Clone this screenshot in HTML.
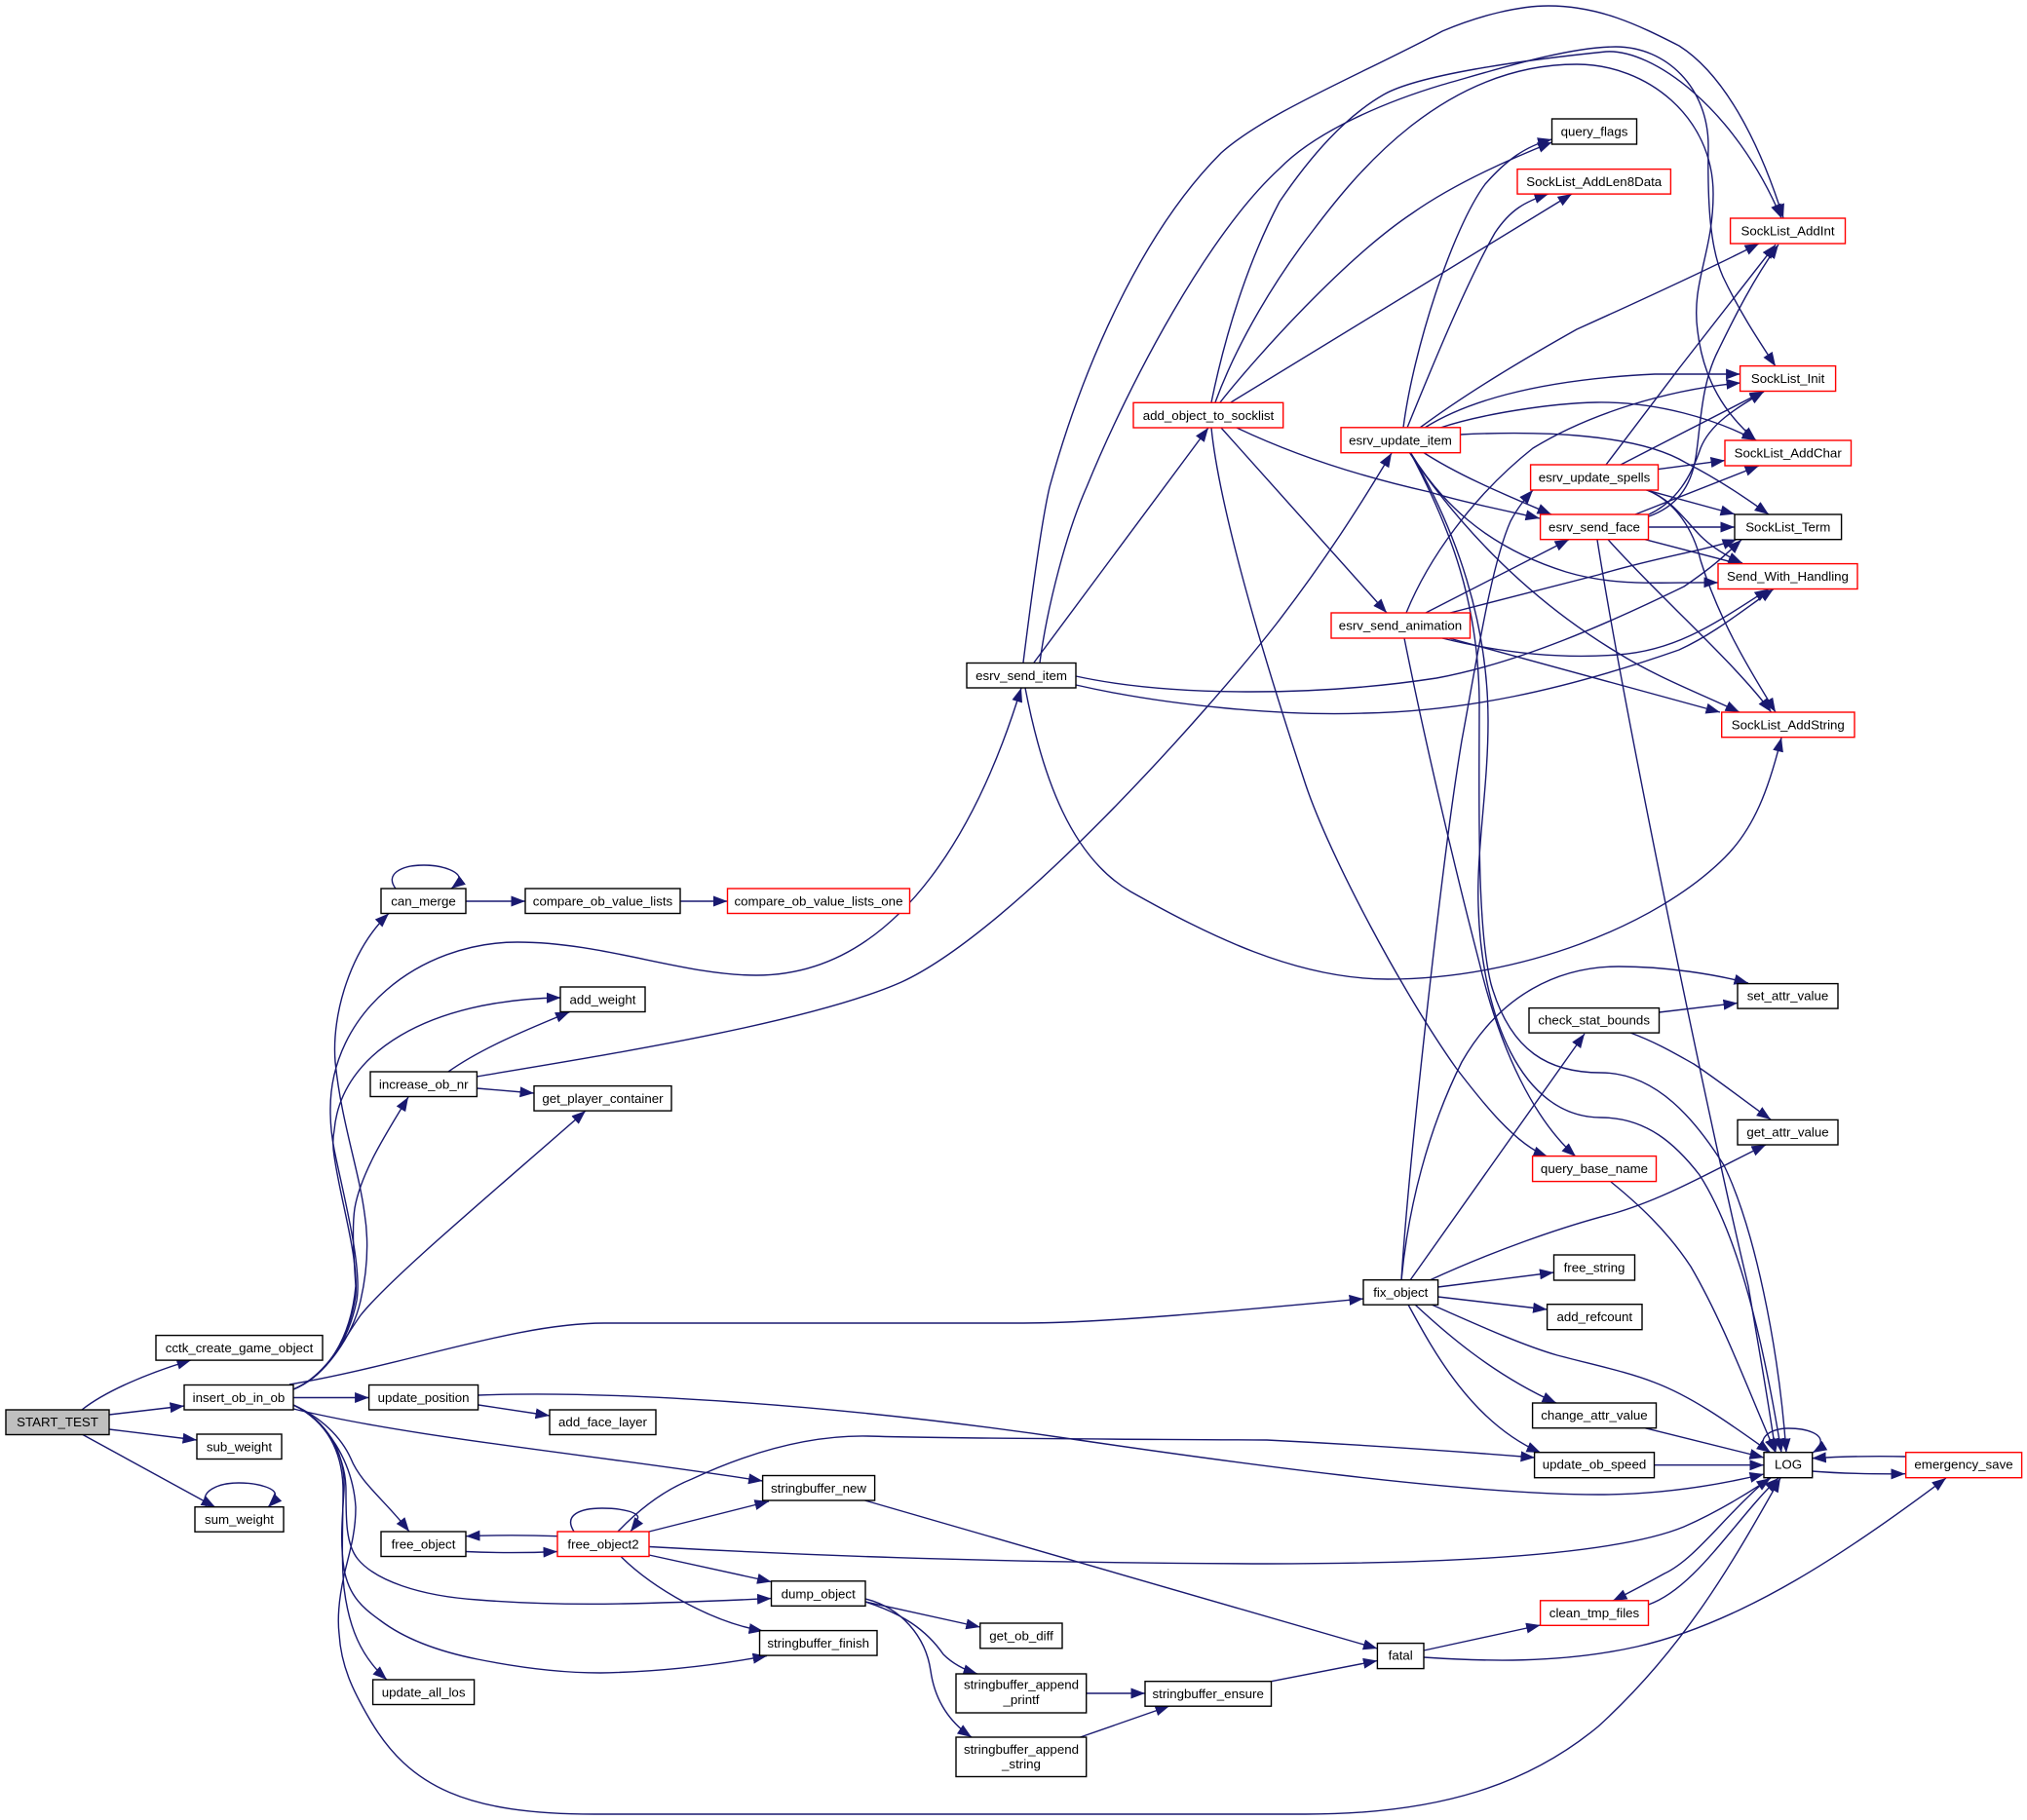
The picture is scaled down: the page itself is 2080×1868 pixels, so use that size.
<!DOCTYPE html>
<html><head><meta charset="utf-8"><style>
html,body{margin:0;padding:0;background:#fff}
svg{display:block}
text{font-family:"Liberation Sans",Arial,sans-serif;font-size:13.3px;text-anchor:middle;fill:#000}
.e path{fill:none;stroke:#191970;stroke-width:1.4;marker-end:url(#a)}
.n rect{fill:#fff;stroke:#000;stroke-width:1.4}
.n rect.r{stroke:#f00}
</style></head><body>
<svg width="2080" height="1868" viewBox="0 0 2080 1868" xmlns="http://www.w3.org/2000/svg">
<defs><marker id="a" markerUnits="userSpaceOnUse" markerWidth="16" markerHeight="12" refX="14.5" refY="5.5" orient="auto"><path d="M0,0L14.5,5.5L0,11Z" fill="#191970"/></marker></defs>
<g class="e">
<path d="M84,1447C108,1428 150,1410 196,1396"/>
<path d="M112,1452L189,1443"/>
<path d="M112,1467L202,1478"/>
<path d="M84,1472L221,1547"/>
<path d="M212,1547C203,1530 225,1522 245,1522C265,1522 285,1528 282,1535C281,1539 279,1543 275,1547"/>
<path d="M301,1434.5L378.6,1434.5"/>
<path d="M491,1442L564,1453"/>
<path d="M491,1432C620,1427 850,1440 1100,1477C1250,1499 1500,1534 1640,1534C1700,1534 1760,1525 1810,1513"/>
<path d="M634,1572C655,1550 680,1530 710,1518C770,1490 830,1473 890,1474C1000,1477 1150,1477 1300,1478C1400,1483 1500,1490 1575,1496"/>
<path d="M297,1421C420,1400 530,1358 620,1358L1050,1358C1130,1358 1270,1345 1399,1333"/>
<path d="M301,1446C420,1475 600,1492 782.6,1520"/>
<path d="M301,1442C330,1455 350,1475 360,1497C370,1522 395,1540 420,1572"/>
<path d="M301,1442C335,1458 355,1495 355,1530C355,1560 355,1585 367,1600C385,1622 430,1638 490,1642C540,1646 590,1647 640,1646C690,1645 740,1643 791.5,1640.6"/>
<path d="M301,1442C335,1458 355,1490 353,1530C351,1560 349,1585 353,1610C358,1640 375,1652 390,1663C415,1682 450,1695 490,1703C530,1711 575,1717 616,1717C680,1716 740,1708 787,1699.6"/>
<path d="M301,1442C335,1458 352,1490 352,1530C352,1560 350,1600 353,1630C358,1670 370,1700 397,1724"/>
<path d="M301,1442C335,1458 362,1500 365,1547C365,1575 358,1595 353,1617C348,1640 346,1660 348,1677C350,1710 362,1735 379,1764C420,1835 480,1862 610,1862L1340,1862C1480,1862 1570,1830 1640,1772C1730,1690 1780,1600 1827,1517"/>
<path d="M301,1426C335,1412 362,1370 370,1335C378,1300 378,1270 374,1245C368,1200 350,1150 344,1090C340,1040 360,975 399,937.5"/>
<path d="M301,1426C335,1412 358,1375 366,1335C372,1300 352,1225 343,1180C340,1165 339,1150 339,1140C338,1040 430,967 531,967C620,967 700,1001 776,1001C930,1001 1010,830 1048,706"/>
<path d="M301,1426C335,1412 358,1375 365,1330C368,1290 350,1235 343,1187C341,1175 342,1165 343,1160C350,1080 440,1026 575.5,1024"/>
<path d="M301,1426C335,1412 360,1375 365,1320C363,1290 361,1260 364,1240C370,1205 395,1165 419,1126"/>
<path d="M301,1426C335,1412 352,1375 370,1350C400,1312 510,1220 601,1140"/>
<path d="M406,912C395,898 410,888 435,888C455,888 473,895 471,903C470,906 467,909 463,912"/>
<path d="M478,925L539,925"/>
<path d="M698,925L746.5,925"/>
<path d="M460,1100C495,1075 545,1055 584.5,1038.6"/>
<path d="M489.4,1117L548,1122"/>
<path d="M489,1105C620,1083 830,1050 925,1008C1040,955 1240,730 1310,640C1360,575 1395,520 1428,465"/>
<path d="M1061,680L1240,439"/>
<path d="M1050,680C1060,600 1070,530 1077,500C1110,380 1170,240 1253,157C1300,115 1400,75 1480,32C1520,15 1560,6 1589,6C1640,6 1680,25 1723,47C1775,80 1810,160 1830,224"/>
<path d="M1067,680C1075,620 1095,545 1115,500C1160,390 1240,240 1313,173C1350,135 1420,105 1480,87C1540,70 1610,48 1658,48C1710,48 1753,90 1753,150C1752,210 1755,255 1768,284C1785,320 1805,350 1822,376"/>
<path d="M1104,694C1200,715 1350,715 1474,696C1560,680 1650,640 1728,602C1760,580 1770,570 1787,554"/>
<path d="M1104,703C1200,725 1320,735 1400,732C1500,730 1600,710 1723,667C1760,650 1790,625 1820,604.5"/>
<path d="M1052,706C1070,800 1100,880 1160,915C1240,960 1330,1005 1424,1005C1560,1005 1700,950 1770,880C1800,850 1815,810 1828,757"/>
<path d="M1243,413C1260,330 1285,260 1313,207C1345,160 1380,120 1420,97C1455,77 1560,62 1648,53C1695,50 1780,110 1828,224"/>
<path d="M1247,413C1270,350 1310,285 1347,237C1390,180 1480,66 1618,66C1690,66 1758,120 1758,199C1758,260 1735,290 1742,340C1748,390 1770,425 1802,452"/>
<path d="M1252,413C1290,365 1380,265 1449,219C1490,190 1545,165 1592.5,146"/>
<path d="M1263,413L1613,199"/>
<path d="M1243,439C1250,510 1285,640 1340,806C1365,880 1440,1020 1494,1096C1520,1130 1555,1175 1588,1187"/>
<path d="M1253,439L1423,629"/>
<path d="M1269,439C1330,468 1400,490 1467,505C1500,515 1540,523 1580,532"/>
<path d="M1440,439C1450,360 1490,235 1524,189C1545,165 1565,150 1592.5,143"/>
<path d="M1444,439C1470,375 1505,290 1534,239C1550,215 1565,207 1589,199"/>
<path d="M1457,439C1510,400 1570,365 1618,338C1680,310 1750,278 1805,250"/>
<path d="M1462,439C1500,415 1570,390 1698,384L1785.6,384"/>
<path d="M1478,439C1520,425 1590,414 1638,413C1700,412 1760,430 1802,452"/>
<path d="M1498.5,446C1580,442 1680,445 1730,475C1760,490 1790,510 1815,528"/>
<path d="M1460,464C1500,490 1550,510 1592,528"/>
<path d="M1447,464C1475,510 1520,560 1607,587C1660,603 1710,597 1763,598"/>
<path d="M1446,464C1490,530 1560,610 1660,670C1700,695 1745,712 1785,731"/>
<path d="M1447,464C1490,545 1517,620 1518,720C1518,820 1515,950 1530,1010C1550,1080 1590,1101 1643,1101C1700,1101 1740,1150 1769,1196C1800,1260 1825,1380 1833,1491"/>
<path d="M1447,464C1495,545 1527,640 1527,740C1527,810 1515,870 1517,930C1520,1040 1560,1147 1643,1147C1690,1147 1720,1175 1744,1206C1785,1270 1810,1380 1828,1491"/>
<path d="M1441,655C1460,750 1490,880 1518,988C1540,1080 1575,1150 1617,1187"/>
<path d="M1443,629C1465,575 1510,510 1573,460C1630,425 1710,400 1786,393"/>
<path d="M1463,629L1610,553.7"/>
<path d="M1488,629L1640,590C1700,572 1750,565 1782,553.7"/>
<path d="M1480,655C1560,675 1620,675 1660,672C1720,668 1760,640 1815,604.5"/>
<path d="M1487,655L1765,731"/>
<path d="M1648,477L1723,378L1822,251"/>
<path d="M1663,477L1810,401.5"/>
<path d="M1701.5,481.6L1770,472.6"/>
<path d="M1688,502.6L1780,527.7"/>
<path d="M1690,503C1715,512 1730,535 1745,550C1755,560 1770,570 1788,578"/>
<path d="M1690,503C1720,515 1738,545 1745,575C1765,640 1800,695 1822,731"/>
<path d="M1438,1314C1445,1200 1480,880 1500,760C1515,680 1530,580 1550,535C1558,520 1565,512 1573,503"/>
<path d="M1438,1314C1445,1240 1465,1160 1500,1090C1540,1020 1600,992 1661,992C1710,992 1760,1000 1794,1009"/>
<path d="M1447,1314L1626,1061"/>
<path d="M1467,1314C1530,1285 1600,1260 1654,1246C1710,1230 1760,1200 1812,1175"/>
<path d="M1475.6,1321L1594.5,1306"/>
<path d="M1475.6,1331L1587.6,1344"/>
<path d="M1469,1339C1510,1357 1560,1380 1598,1391C1640,1402 1670,1408 1698,1419C1740,1435 1780,1465 1817,1491"/>
<path d="M1452,1339C1480,1365 1530,1410 1597,1440"/>
<path d="M1445,1339C1470,1385 1510,1460 1581,1491"/>
<path d="M1688,1465.7L1810,1496"/>
<path d="M1697.5,1503.7L1810,1503.7"/>
<path d="M1653,1213C1680,1235 1710,1262 1735,1300C1770,1360 1795,1430 1822,1491"/>
<path d="M1702.5,1039L1783,1029.5"/>
<path d="M1673,1060C1700,1070 1720,1082 1738,1092C1765,1110 1790,1130 1817,1149"/>
<path d="M1815,1491C1800,1478 1815,1466 1835,1466C1855,1466 1870,1472 1868,1481C1867,1485 1865,1488 1860,1491"/>
<path d="M1955,1495C1920,1494 1890,1495 1859.3,1496.7"/>
<path d="M1859.3,1510C1890,1512.5 1920,1513 1955,1512.7"/>
<path d="M1461,1701C1520,1705 1600,1708 1680,1690C1790,1665 1900,1590 1997,1517"/>
<path d="M1461,1694L1580.6,1668"/>
<path d="M1691.5,1647C1740,1630 1780,1560 1825,1517"/>
<path d="M1815,1517C1770,1555 1740,1600 1708,1615C1690,1625 1675,1633 1655,1643"/>
<path d="M666,1587.5C800,1595 1000,1604 1300,1605C1500,1605 1660,1595 1728,1567C1760,1553 1790,1535 1817,1517"/>
<path d="M589,1572C578,1555 595,1548 618,1548C640,1548 658,1553 654,1559C652,1564 650,1568 647,1572"/>
<path d="M666,1572L789,1541"/>
<path d="M666,1596L791.5,1623.5"/>
<path d="M637.5,1598C670,1630 730,1665 783,1674"/>
<path d="M572,1576.7C540,1575.5 510,1575.5 478,1576.7"/>
<path d="M478,1592.5C510,1594 540,1594 572,1592.5"/>
<path d="M888,1644L1005.8,1670"/>
<path d="M888,1644C925,1656 950,1672 968,1698C978,1708 990,1714 1003,1718"/>
<path d="M888,1641C925,1650 950,1680 955,1715C960,1750 978,1770 997,1783"/>
<path d="M1114.7,1738L1175,1738"/>
<path d="M1108.5,1783L1200,1751"/>
<path d="M1304.5,1725.7L1413.4,1704.5"/>
<path d="M887.5,1540L1413.4,1692"/>
<path d="M1692,530C1720,520 1735,500 1740,470C1745,440 1745,395 1763,360C1780,325 1800,285 1825,251"/>
<path d="M1692,528C1720,515 1735,490 1745,460C1755,435 1780,420 1810,402"/>
<path d="M1678,528L1805,478"/>
<path d="M1691.5,541L1780,541"/>
<path d="M1688,553.7L1787.6,579.6"/>
<path d="M1650,553.7C1700,610 1780,680 1817.6,731"/>
<path d="M1639,554C1670,750 1760,1180 1794,1320C1805,1385 1815,1440 1822,1491"/>
</g>
<g class="n">
<rect x="6" y="1447" width="106" height="25.5" style="fill:#bfbfbf"/><text x="59" y="1464">START_TEST</text>
<rect x="160" y="1370.6" width="171" height="25.5"/><text x="245.5" y="1388">cctk_create_game_object</text>
<rect x="189" y="1421.5" width="112" height="25.5"/><text x="245" y="1439">insert_ob_in_ob</text>
<rect x="202" y="1472" width="87" height="25.5"/><text x="245.5" y="1489.5">sub_weight</text>
<rect x="200" y="1546.7" width="91" height="25.5"/><text x="245.5" y="1564">sum_weight</text>
<rect x="378.6" y="1421.5" width="112" height="25.5"/><text x="434.6" y="1439">update_position</text>
<rect x="564" y="1447" width="109" height="25.5"/><text x="618.5" y="1464">add_face_layer</text>
<rect x="391" y="1572" width="87" height="25.5"/><text x="434.5" y="1589.5">free_object</text>
<rect class="r" x="572" y="1572" width="94" height="25.5"/><text x="619" y="1589.5">free_object2</text>
<rect x="382.6" y="1724" width="104" height="25.5"/><text x="434.6" y="1741.5">update_all_los</text>
<rect x="391" y="912" width="87" height="25.5"/><text x="434.5" y="929.5">can_merge</text>
<rect x="539" y="912" width="159" height="25.5"/><text x="618.5" y="929.5">compare_ob_value_lists</text>
<rect class="r" x="746.5" y="912" width="187" height="25.5"/><text x="840" y="929.5">compare_ob_value_lists_one</text>
<rect x="575" y="1013" width="87" height="25.5"/><text x="618.5" y="1030.5">add_weight</text>
<rect x="380" y="1100" width="109.4" height="25.5"/><text x="434.7" y="1117.5">increase_ob_nr</text>
<rect x="548" y="1114.6" width="141" height="25.5"/><text x="618.5" y="1132">get_player_container</text>
<rect x="782.6" y="1514.5" width="115" height="25.5"/><text x="840" y="1532">stringbuffer_new</text>
<rect x="791.5" y="1622.8" width="96.5" height="25.5"/><text x="839.7" y="1640.3">dump_object</text>
<rect x="779.5" y="1673.6" width="120.5" height="25.5"/><text x="839.7" y="1691">stringbuffer_finish</text>
<rect x="1005.8" y="1666" width="84.2" height="25.8"/><text x="1048" y="1683.5">get_ob_diff</text>
<rect x="981" y="1718" width="133.7" height="40"/><text x="1048" y="1733.5">stringbuffer_append</text><text x="1048" y="1749">_printf</text>
<rect x="981" y="1783" width="133.7" height="40.5"/><text x="1048" y="1800">stringbuffer_append</text><text x="1048" y="1815">_string</text>
<rect x="1175" y="1725.7" width="129.5" height="25.5"/><text x="1239.7" y="1743">stringbuffer_ensure</text>
<rect x="992" y="680.5" width="112" height="25.5"/><text x="1048" y="698">esrv_send_item</text>
<rect class="r" x="1163" y="413.3" width="153.7" height="25.7"/><text x="1240" y="431">add_object_to_socklist</text>
<rect x="1592.5" y="122" width="87" height="26"/><text x="1636" y="139.5">query_flags</text>
<rect class="r" x="1557" y="173.6" width="157.4" height="25.5"/><text x="1635.7" y="191">SockList_AddLen8Data</text>
<rect class="r" x="1775.6" y="224" width="117.9" height="26"/><text x="1834.5" y="241.5">SockList_AddInt</text>
<rect class="r" x="1785.6" y="375.6" width="98" height="25.9"/><text x="1834.6" y="393.2">SockList_Init</text>
<rect class="r" x="1376" y="438.8" width="122.5" height="25.9"/><text x="1437" y="456.5">esrv_update_item</text>
<rect class="r" x="1770" y="452" width="129.5" height="26"/><text x="1834.7" y="469.5">SockList_AddChar</text>
<rect class="r" x="1570.6" y="477" width="130.9" height="26"/><text x="1636" y="494.5">esrv_update_spells</text>
<rect class="r" x="1580.6" y="528" width="110.9" height="25.7"/><text x="1636" y="545.5">esrv_send_face</text>
<rect x="1780" y="528" width="109.6" height="25.7"/><text x="1834.8" y="545.5">SockList_Term</text>
<rect class="r" x="1763" y="578.6" width="143" height="25.9"/><text x="1834.5" y="596">Send_With_Handling</text>
<rect class="r" x="1366" y="629" width="142.5" height="26"/><text x="1437" y="646.5">esrv_send_animation</text>
<rect class="r" x="1766.7" y="731" width="136.3" height="25.7"/><text x="1834.8" y="748.5">SockList_AddString</text>
<rect x="1783" y="1009.6" width="103" height="25.5"/><text x="1834.5" y="1026.5">set_attr_value</text>
<rect x="1569" y="1034.6" width="133.5" height="25.5"/><text x="1635.7" y="1051.5">check_stat_bounds</text>
<rect x="1783" y="1149.4" width="103" height="25.6"/><text x="1834.5" y="1166.5">get_attr_value</text>
<rect class="r" x="1572.6" y="1186.6" width="126.9" height="26"/><text x="1636" y="1204">query_base_name</text>
<rect x="1594.5" y="1288" width="83" height="26"/><text x="1636" y="1305.5">free_string</text>
<rect x="1399" y="1313.7" width="76.6" height="25.5"/><text x="1437.3" y="1330.8">fix_object</text>
<rect x="1587.6" y="1338.7" width="97.4" height="26"/><text x="1636.3" y="1356">add_refcount</text>
<rect x="1572.6" y="1440" width="126.9" height="25.7"/><text x="1636" y="1457">change_attr_value</text>
<rect x="1574.6" y="1490.7" width="122.9" height="26"/><text x="1636" y="1507.5">update_ob_speed</text>
<rect x="1810" y="1490.7" width="49.7" height="26"/><text x="1835" y="1507.5">LOG</text>
<rect class="r" x="1955.7" y="1490.7" width="118.9" height="26"/><text x="2015" y="1507.5">emergency_save</text>
<rect class="r" x="1580.6" y="1642.8" width="110.9" height="25.5"/><text x="1636" y="1660">clean_tmp_files</text>
<rect x="1413.4" y="1686.6" width="47.6" height="26"/><text x="1437.2" y="1703.5">fatal</text>
</g>
</svg>
</body></html>
